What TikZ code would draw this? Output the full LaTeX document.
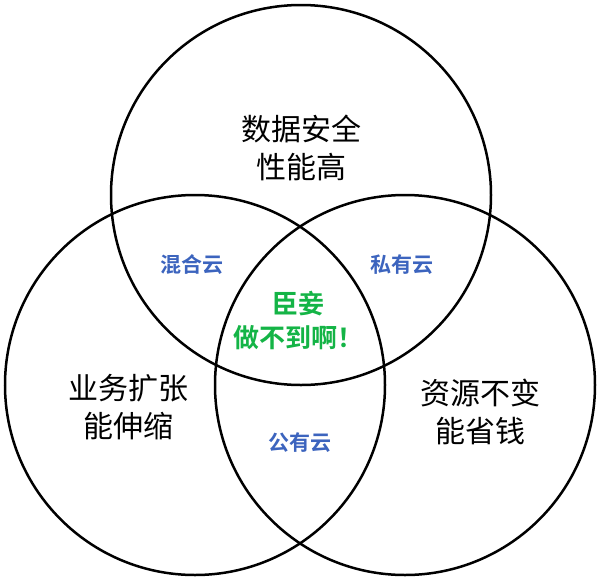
\documentclass[tikz,border=0pt]{standalone}
\usepackage{fontspec}
\setmainfont{Noto Sans CJK SC}[BoldFont={* Bold}]
\usepackage{tikz}
\definecolor{cloudblue}{RGB}{60,100,190}
\definecolor{teagreen}{RGB}{20,180,70}
\tikzset{
  ring/.style={draw,line width=2.5pt},
  tag/.style={font=\fontsize{30}{38}\selectfont,align=center},
  cloud/.style={font=\fontsize{21}{25}\selectfont\bfseries,text=cloudblue},
  core/.style={font=\fontsize{26}{34}\selectfont\bfseries,text=teagreen,align=center}
}
\begin{document}
\begin{tikzpicture}[x=1pt,y=-1pt]
\useasboundingbox (0,0) rectangle (600,579);
\draw[ring] (301,195) circle (190);
\draw[ring] (195,385) circle (190);
\draw[ring] (405,385) circle (190);
\node[tag] (top) at (301,148) {数据安全\\性能高};
\node[tag] (left) at (128,407) {业务扩张\\能伸缩};
\node[tag] (right) at (480,412) {资源不变\\能省钱};
\node[cloud] (mix) at (192,265) {混合云};
\node[cloud] (priv) at (402,265) {私有云};
\node[cloud] (pub) at (300,443) {公有云};
\node[core] (mid) at (298,320) {臣妾\\做不到啊！};
\end{tikzpicture}
\end{document}
